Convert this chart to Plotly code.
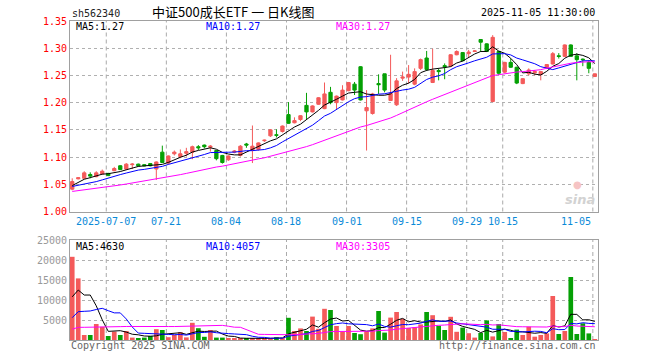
import plotly.graph_objects as go
import pandas as pd

# ---------------- data ----------------
open_ = [1.041,1.060,1.061,1.068,1.064,1.069,1.070,1.075,1.084,1.078,
         1.086,1.087,1.086,1.088,1.078,1.109,1.089,1.106,1.101,1.107,
         1.109,1.119,1.122,1.118,1.112,1.103,1.095,1.109,1.103,1.124,
         1.112,1.114,1.130,1.139,1.141,1.147,1.178,1.163,1.169,1.195,
         1.183,1.197,1.189,1.219,1.200,1.205,1.222,1.234,1.266,1.185,
         1.180,1.235,1.253,1.204,1.196,1.245,1.247,1.234,1.263,1.282,
         1.237,1.259,1.268,1.267,1.288,1.292,1.290,1.294,1.316,1.308,
         1.202,1.294,1.256,1.274,1.265,1.235,1.253,1.255,1.252,1.263,
         1.271,1.286,1.285,1.306,1.286,1.280,1.274,1.248]
high = [1.061,1.063,1.074,1.072,1.074,1.077,1.071,1.082,1.085,1.089,
        1.089,1.088,1.087,1.089,1.092,1.121,1.103,1.112,1.114,1.117,
        1.121,1.122,1.123,1.122,1.113,1.104,1.103,1.113,1.122,1.126,
        1.158,1.127,1.132,1.151,1.151,1.158,1.201,1.173,1.177,1.218,
        1.195,1.210,1.237,1.229,1.213,1.232,1.238,1.238,1.267,1.223,
        1.218,1.252,1.253,1.288,1.245,1.257,1.269,1.263,1.281,1.295,
        1.299,1.262,1.272,1.289,1.296,1.293,1.297,1.296,1.316,1.309,
        1.324,1.295,1.275,1.281,1.266,1.245,1.263,1.260,1.258,1.271,
        1.293,1.291,1.307,1.307,1.291,1.281,1.278,1.253]
low = [1.039,1.059,1.060,1.061,1.063,1.068,1.065,1.074,1.076,1.076,
       1.078,1.083,1.083,1.083,1.058,1.089,1.086,1.103,1.098,1.101,
       1.096,1.113,1.116,1.110,1.094,1.088,1.093,1.107,1.101,1.117,
       1.089,1.112,1.128,1.137,1.136,1.145,1.161,1.162,1.166,1.170,
       1.182,1.196,1.188,1.197,1.188,1.204,1.221,1.214,1.204,1.112,
       1.178,1.216,1.219,1.203,1.194,1.240,1.235,1.232,1.260,1.258,
       1.236,1.241,1.243,1.266,1.287,1.276,1.283,1.293,1.293,1.293,
       1.201,1.251,1.254,1.264,1.234,1.234,1.250,1.250,1.241,1.262,
       1.270,1.281,1.284,1.284,1.241,1.267,1.254,1.247]
close = [1.055,1.062,1.071,1.065,1.071,1.074,1.066,1.079,1.077,1.087,
         1.087,1.084,1.084,1.084,1.091,1.090,1.102,1.109,1.106,1.110,
         1.119,1.117,1.119,1.120,1.097,1.090,1.102,1.111,1.120,1.122,
         1.120,1.126,1.131,1.150,1.140,1.157,1.162,1.167,1.176,1.183,
         1.194,1.209,1.216,1.200,1.212,1.223,1.237,1.223,1.205,1.191,
         1.216,1.233,1.223,1.217,1.240,1.247,1.252,1.257,1.279,1.261,
         1.259,1.257,1.266,1.288,1.294,1.277,1.293,1.295,1.311,1.294,
         1.320,1.254,1.274,1.265,1.236,1.244,1.260,1.257,1.257,1.270,
         1.290,1.285,1.306,1.285,1.279,1.279,1.263,1.253]
volume = [20800,15400,1250,1250,4000,3300,1000,2100,1250,2250,
          600,300,600,1000,2700,2500,700,1250,1950,650,
          4300,2950,800,2500,600,600,370,370,450,400,
          300,400,500,500,700,500,5550,2250,2900,2250,
          5850,2800,7800,7500,3500,2150,3500,1750,1450,2150,
          2900,7250,1850,5600,7000,5300,3000,3200,3900,7000,
          6200,3550,2500,5800,2050,3100,1700,600,1750,4900,
          900,4000,2000,420,2600,1250,3330,830,1250,1650,
          11000,1500,2250,15750,1500,4170,1650,170]

# 29 sessions before the visible window (only feed the moving averages)
pre_close = [1.022,1.025,1.021,1.027,1.030,1.028,1.026,1.031,1.034,1.032,
             1.029,1.033,1.036,1.035,1.038,1.040,1.037,1.039,1.042,1.041,
             1.043,1.046,1.044,1.047,1.042,1.030,1.045,1.050,1.058]
pre_volume = [1500,1100,1250,1400,1000,1200,1600,1300,1150,1350,
              1200,1050,1450,1300,1100,1250,1400,1200,1150,1300,
              400,350,450,300,350,6950,7500,1250,17500]

date_index = [6, 16, 26, 36, 46, 56, 66, 72, 87]
date_labels = ["2025-07-07", "07-21", "08-04", "08-18", "09-01",
               "09-15", "09-29", "10-15", "11-05"]
price_ticks = [1.00, 1.05, 1.10, 1.15, 1.20, 1.25, 1.30, 1.35]
volume_ticks = [5000, 10000, 15000, 20000, 25000]
ma_periods = [5, 10, 30]
price_ma_labels = ["MA5:1.27", "MA10:1.27", "MA30:1.27"]
volume_ma_labels = ["MA5:4630", "MA10:4057", "MA30:3305"]

# ---------------- styling ----------------
RED = "#f45a5a"
GREEN = "#05a005"
MA_COLORS = ["#000000", "#0000ff", "#ff00ff"]
MONO = "DejaVu Sans Mono"
W, H = 660, 360
L_M, R_M, T_M, B_M = 70, 62, 21, 20
PLOT_H = H - T_M - B_M


def px_x(px):
    return (px - L_M) / (W - L_M - R_M)


def px_y(py):
    return (H - B_M - py) / PLOT_H


n = len(close)
idx = list(range(n))
full_close = pd.Series(pre_close + close)
full_vol = pd.Series(pre_volume + volume)
k = len(pre_close)
price_ma = [full_close.rolling(p).mean().iloc[k:].tolist() for p in ma_periods]
vol_ma = [full_vol.rolling(p).mean().iloc[k:].tolist() for p in ma_periods]
vol_colors = [RED if c >= o else GREEN for o, c in zip(open_, close)]

fig = go.Figure()
fig.add_trace(go.Candlestick(
    x=idx, open=open_, high=high, low=low, close=close,
    increasing=dict(line=dict(color=RED, width=1), fillcolor=RED),
    decreasing=dict(line=dict(color=GREEN, width=1), fillcolor=GREEN),
    whiskerwidth=0, xaxis="x", yaxis="y", showlegend=False, hoverinfo="skip"))
for ma, col in zip(price_ma, MA_COLORS):
    fig.add_trace(go.Scatter(x=idx, y=ma, mode="lines", line=dict(color=col, width=1),
                             xaxis="x", yaxis="y", showlegend=False, hoverinfo="skip"))

fig.add_trace(go.Bar(x=idx, y=volume, marker=dict(color=vol_colors, line=dict(width=0)),
                     width=0.78, xaxis="x2", yaxis="y2", showlegend=False, hoverinfo="skip"))
for ma, col in zip(vol_ma, MA_COLORS):
    fig.add_trace(go.Scatter(x=idx, y=ma, mode="lines", line=dict(color=col, width=1),
                             xaxis="x2", yaxis="y2", showlegend=False, hoverinfo="skip"))

xr = [-0.37, 87.53]
price_dom = [px_y(211.5), 1.0]
vol_dom = [0.0, px_y(240)]
frame = dict(showline=True, mirror=True, linecolor="#a0a0a0", linewidth=1, zeroline=False)

fig.update_layout(
    width=W, height=H, margin=dict(l=L_M, r=R_M, t=T_M, b=B_M),
    paper_bgcolor="white", plot_bgcolor="white",
    font=dict(family=MONO, size=10, color="#000"),
    boxgap=0.22, bargap=0.2, hovermode=False,
    xaxis=dict(domain=[0, 1], range=xr, anchor="y", showticklabels=False, showgrid=False,
               ticks="", rangeslider=dict(visible=False), **frame),
    xaxis2=dict(domain=[0, 1], range=xr, anchor="y2", matches="x", showticklabels=False,
                showgrid=False, ticks="", **frame),
    yaxis=dict(domain=price_dom, range=[1.0, 1.35], tickvals=price_ticks,
               ticktext=["%.2f" % v for v in price_ticks], tickfont=dict(color="#ff0000", size=10),
               showgrid=True, gridcolor="#b0b0b0", griddash="dot", gridwidth=1, ticks="", **frame),
    yaxis2=dict(domain=vol_dom, range=[0, 25000], tickvals=volume_ticks,
                ticktext=[str(v) for v in volume_ticks], tickfont=dict(color="#999999", size=10),
                showgrid=True, gridcolor="#b0b0b0", griddash="dot", gridwidth=1, ticks="", **frame),
)

# dashed vertical grid lines at the labelled sessions
for d in date_index:
    for yref in ("y domain", "y2 domain"):
        fig.add_shape(type="line", xref="x", yref=yref, x0=d - 0.33, x1=d - 0.33, y0=0, y1=1,
                      line=dict(color="#aaaaaa", width=1, dash="4px,3px"), layer="below")

# date labels under the price panel
for j, (d, lab) in enumerate(zip(date_index, date_labels)):
    last = j == len(date_index) - 1
    fig.add_annotation(x=d - 0.33, xref="x", y=px_y(221.5), yref="paper", text=lab,
                       showarrow=False, xanchor="right" if last else "center", yanchor="middle",
                       font=dict(family=MONO, size=10, color="#0a8ad8"))

# moving-average legends
ma_x = [74, 204, 334]
for lab, col, x in zip(price_ma_labels, MA_COLORS, ma_x):
    fig.add_annotation(x=px_x(x), y=px_y(26.5), xref="paper", yref="paper", text=lab,
                       showarrow=False, xanchor="left", yanchor="middle",
                       font=dict(family=MONO, size=10, color=col))
for lab, col, x in zip(volume_ma_labels, MA_COLORS, ma_x):
    fig.add_annotation(x=px_x(x), y=px_y(246.5), xref="paper", yref="paper", text=lab,
                       showarrow=False, xanchor="left", yanchor="middle",
                       font=dict(family=MONO, size=10, color=col))

# header
fig.add_annotation(x=px_x(70), y=px_y(13), xref="paper", yref="paper", text="sh562340",
                   showarrow=False, xanchor="left", yanchor="middle",
                   font=dict(family=MONO, size=10, color="#222"))
fig.add_annotation(x=px_x(233), y=px_y(11.5), xref="paper", yref="paper",
                   text="中证500成长ETF 一 日K线图", showarrow=False, xanchor="center",
                   yanchor="middle", font=dict(family="Noto Sans CJK SC", size=13, color="#000"))
fig.add_annotation(x=px_x(597), y=px_y(12.5), xref="paper", yref="paper",
                   text="2025-11-05 11:30:00", showarrow=False, xanchor="right", yanchor="middle",
                   font=dict(family=MONO, size=10, color="#000"))

# watermark
fig.add_annotation(x=px_x(577), y=px_y(184), xref="paper", yref="paper", text="●",
                   showarrow=False, xanchor="center", yanchor="middle",
                   font=dict(family="DejaVu Sans", size=10, color="#f6c4c4"))
fig.add_annotation(x=px_x(597), y=px_y(200), xref="paper", yref="paper", text="<b><i>sina</i></b>",
                   showarrow=False, xanchor="right", yanchor="middle",
                   font=dict(family="DejaVu Sans", size=13, color="#d2d2d2"))

# footer
fig.add_annotation(x=px_x(69), y=px_y(345.5), xref="paper", yref="paper",
                   text="Copyright 2025 SINA.COM", showarrow=False, xanchor="left",
                   yanchor="middle", font=dict(family=MONO, size=10, color="#666666"))
fig.add_annotation(x=px_x(597.5), y=px_y(345.5), xref="paper", yref="paper",
                   text="http://finance.sina.com.cn", showarrow=False, xanchor="right",
                   yanchor="middle", font=dict(family=MONO, size=10, color="#666666"))

fig.write_html("out.html", config={"displayModeBar": False},
               post_script="document.body.style.margin='0px';")
